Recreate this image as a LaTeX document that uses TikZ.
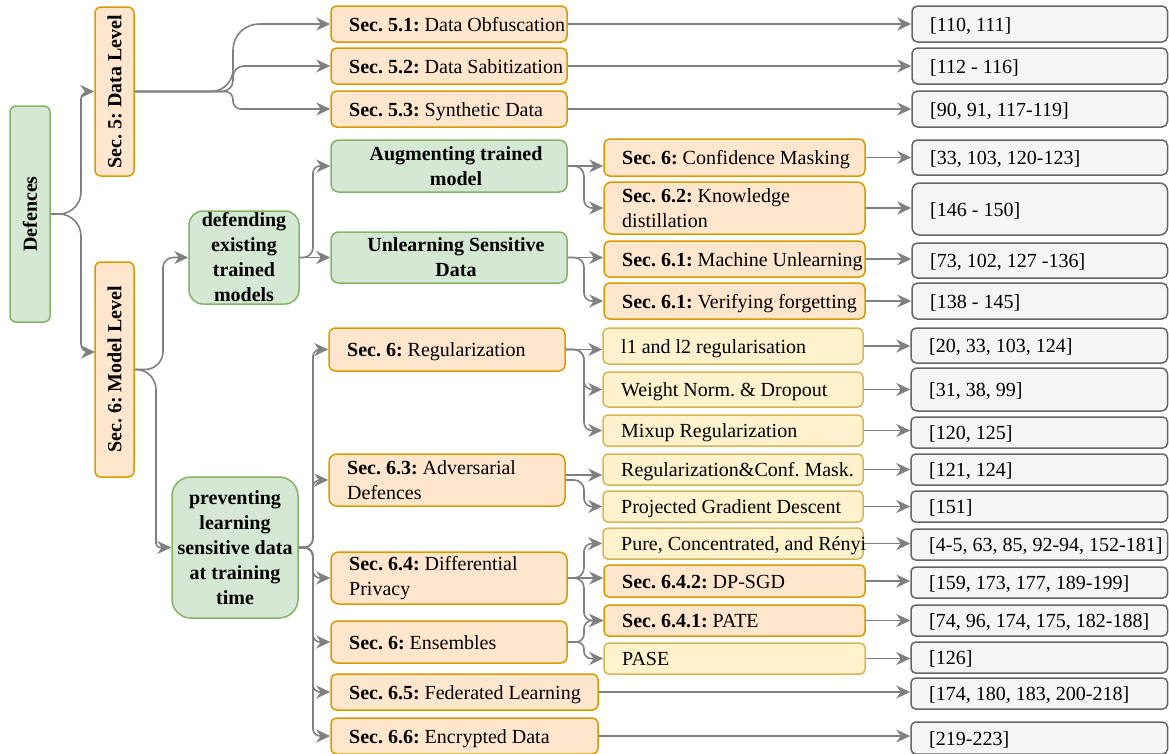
\documentclass[tikz,border=0pt]{standalone}
\usepackage{fontspec}
\setmainfont{Liberation Serif}
\usepackage{graphicx}
\usetikzlibrary{arrows.meta,calc}
\frenchspacing
\definecolor{ofill}{HTML}{FFE6CC}\definecolor{ostroke}{HTML}{D79B00}
\definecolor{gfill}{HTML}{D5E8D4}\definecolor{gstroke}{HTML}{82B366}
\definecolor{yfill}{HTML}{FFF2CC}\definecolor{ystroke}{HTML}{D6B656}
\definecolor{rfill}{HTML}{F5F5F5}\definecolor{rstroke}{HTML}{666666}
\definecolor{edgec}{HTML}{808080}
\tikzset{
  bx/.style={draw, line width=1.5pt, inner sep=0pt},
  obox/.style={bx, draw=ostroke, fill=ofill},
  gbox/.style={bx, draw=gstroke, fill=gfill},
  ybox/.style={bx, draw=ystroke, fill=yfill},
  rbox/.style={bx, draw=rstroke, fill=rfill},
  txt/.style={inner sep=0pt, font=\fontsize{20}{25}\selectfont\frenchspacing},
  edge/.style={draw=edgec, line width=1.6pt, line join=round,
    -{Stealth[length=14pt,width=13pt,inset=4.5pt]}},
}
\newcommand\boxat[6]{%
  \pgfmathsetmacro\bw{#5-#3}\pgfmathsetmacro\bh{#6-#4}%
  \pgfmathsetmacro\br{0.15*min(\bw,\bh)}%
  \node[#2, minimum width=\bw pt, minimum height=\bh pt, rounded corners=\br pt] (#1) at ({(#3+#5)/2},{(#4+#6)/2}) {};}
\newcommand\lbx[7]{\boxat{#1}{#2}{#3}{#4}{#5}{#6}%
  \node[txt, anchor=base west] (#1t) at ({#3+18},{(#4+#6)/2+7}) {#7};}
\newcommand\mbx[7]{\boxat{#1}{#2}{#3}{#4}{#5}{#6}%
  \node[txt, anchor=west, align=left] (#1t) at ({#3+18},{(#4+#6)/2}) {#7};}
\newcommand\cbx[8]{\boxat{#1}{#2}{#3}{#4}{#5}{#6}%
  \node[txt, align=center, font=\fontsize{20}{25}\selectfont\bfseries] (#1t) at ({(#3+#5)/2+#8},{(#4+#6)/2}) {#7};}
\newcommand\rbx[7]{\boxat{#1}{#2}{#3}{#4}{#5}{#6}%
  \node[txt] (#1t) at ({(#3+#5)/2},{(#4+#6)/2}) {\rotatebox{90}{\textbf{#7}}};}
\newcommand\crv[5]{\draw[edge] (#1) [rounded corners=#4pt] -- (#1 -| #2) [rounded corners=#5pt] -- (#3 -| #2) -- (#3);}
\newcommand\str[2]{\draw[edge] (#1) -- (#1 -| #2);}
\begin{document}
\begin{tikzpicture}[x=1pt,y=-1pt]
\useasboundingbox (0,0) rectangle (1169,753);
% left column
\rbx{def}{gbox}{10}{106}{50}{322}{Defences}
\rbx{sfive}{obox}{95}{7}{134}{176}{Sec. 5: Data Level}
\rbx{ssix}{obox}{95}{262}{134}{477}{Sec. 6: Model Level}
\cbx{dfd}{gbox}{189}{211}{299}{304}{defending\\existing\\trained\\models}{0}
\cbx{prv}{gbox}{172}{477}{298}{618}{preventing\\learning\\sensitive data\\at training\\time}{0}
% second column
\lbx{na}{obox}{331}{6}{567}{42}{\textbf{Sec. 5.1:} Data Obfuscation}
\lbx{nb}{obox}{331}{48}{567}{84}{\textbf{Sec. 5.2:} Data Sabitization}
\lbx{nc}{obox}{331}{91}{567}{127}{\textbf{Sec. 5.3:} Synthetic Data}
\cbx{aug}{gbox}{331}{140}{567}{192}{Augmenting trained\\model}{7}
\cbx{unl}{gbox}{331}{232}{567}{283}{Unlearning Sensitive\\Data}{7}
\lbx{reg}{obox}{329}{328}{565}{371}{\textbf{Sec. 6:} Regularization}
\mbx{adv}{obox}{329}{454}{565}{506}{\textbf{Sec. 6.3:} Adversarial\\Defences}
\mbx{dp}{obox}{331}{552}{567}{604}{\textbf{Sec. 6.4:} Differential\\Privacy}
\lbx{ens}{obox}{331}{621}{567}{663}{\textbf{Sec. 6:} Ensembles}
\lbx{fed}{obox}{331}{674}{598}{710}{\textbf{Sec. 6.5:} Federated Learning}
\lbx{enc}{obox}{331}{718}{598}{754}{\textbf{Sec. 6.6:} Encrypted Data}
% third column
\lbx{cm}{obox}{604}{139}{865}{176}{\textbf{Sec. 6:} Confidence Masking}
\mbx{kd}{obox}{604}{182}{865}{234}{\textbf{Sec. 6.2:} Knowledge\\distillation}
\lbx{mu}{obox}{604}{241}{865}{277}{\textbf{Sec. 6.1:} Machine Unlearning}
\lbx{vf}{obox}{604}{283}{865}{319}{\textbf{Sec. 6.1:} Verifying forgetting}
\lbx{lo}{ybox}{603}{328}{863}{364}{l1 and l2 regularisation}
\lbx{wn}{ybox}{603}{372}{863}{407}{Weight Norm. \& Dropout}
\lbx{mx}{ybox}{603}{415}{863}{446}{Mixup Regularization}
\lbx{rc}{ybox}{603}{454}{863}{485}{Regularization\&Conf. Mask.}
\lbx{pgd}{ybox}{603}{491}{863}{522}{Projected Gradient Descent}
\lbx{pure}{ybox}{603}{528}{863}{559}{Pure, Concentrated, and Rényi}
\lbx{sgd}{obox}{604}{565}{865}{597}{\textbf{Sec. 6.4.2:} DP-SGD}
\lbx{pate}{obox}{604}{605}{865}{636}{\textbf{Sec. 6.4.1:} PATE}
\lbx{pase}{ybox}{604}{643}{865}{674}{PASE}
% right column
\lbx{ra}{rbox}{912}{6}{1167.5}{42}{[110, 111]}
\lbx{rb}{rbox}{912}{48}{1167.5}{84}{[112 - 116]}
\lbx{rc3}{rbox}{912}{91}{1167.5}{127}{[90, 91, 117-119]}
\lbx{rd}{rbox}{912}{140}{1167.5}{175}{[33, 103, 120-123]}
\lbx{re}{rbox}{912}{183}{1167.5}{235}{[146 - 150]}
\lbx{rf}{rbox}{912}{243}{1167.5}{278}{[73, 102, 127 -136]}
\lbx{rg}{rbox}{912}{283}{1167.5}{319}{[138 - 145]}
\lbx{rh}{rbox}{911}{328}{1167.5}{363}{[20, 33, 103, 124]}
\lbx{ri}{rbox}{911}{368}{1167.5}{411}{[31, 38, 99]}
\lbx{rj}{rbox}{911}{417}{1167.5}{448}{[120, 125]}
\lbx{rk}{rbox}{911}{454}{1167.5}{485}{[121, 124]}
\lbx{rl}{rbox}{911}{491}{1167.5}{522}{[151]}
\lbx{rm}{rbox}{911}{529}{1167.5}{560}{[4-5, 63, 85, 92-94, 152-181]}
\lbx{rn}{rbox}{911}{567}{1167.5}{598}{[159, 173, 177, 189-199]}
\lbx{ro}{rbox}{911}{605}{1167.5}{636}{[74, 96, 174, 175, 182-188]}
\lbx{rp}{rbox}{911}{642}{1167.5}{673}{[126]}
\lbx{rq}{rbox}{911}{678}{1167.5}{709}{[174, 180, 183, 200-218]}
\lbx{rr}{rbox}{911}{722}{1167.5}{754}{[219-223]}
% helper coordinates
\coordinate (vA) at (81,0);
\coordinate (vB) at (233,0);
\coordinate (vC) at (163,0);
\coordinate (vD) at (156,0);
\coordinate (vE) at (313,0);
\coordinate (vF) at (584,0);
\coordinate (ssixin) at (95,352);
% curved connectors
\crv{def.east}{vA}{sfive.west}{22}{8}
\crv{def.east}{vA}{ssixin}{22}{8}
\crv{sfive.east}{vB}{na.west}{22}{26}
\crv{sfive.east}{vB}{nb.west}{11}{11}
\crv{sfive.east}{vB}{nc.west}{8}{8}
\crv{ssix.east}{vC}{dfd.west}{18}{10}
\crv{ssix.east}{vD}{prv.west}{20}{4}
\crv{dfd.east}{vE}{aug.west}{10}{7}
\draw[edge] (dfd.east) -- (unl.west);
\crv{prv.east}{vE}{reg.west}{9}{7}
\crv{prv.east}{vE}{adv.west}{9}{7}
\crv{prv.east}{vE}{dp.west}{9}{7}
\crv{prv.east}{vE}{ens.west}{9}{7}
\crv{prv.east}{vE}{fed.west}{9}{7}
\crv{prv.east}{vE}{enc.west}{9}{7}
\str{aug.east}{cm.west}
\crv{aug.east}{vF}{kd.west}{10}{8}
\str{unl.east}{mu.west}
\crv{unl.east}{vF}{vf.west}{10}{8}
\str{reg.east}{lo.west}
\crv{reg.east}{vF}{wn.west}{10}{8}
\crv{reg.east}{vF}{mx.west}{10}{8}
\draw[edge] ($(adv.east)+(0,-5)$) -- ($(rc.west)+(0,5.5)$);
\crv{adv.east}{vF}{pgd.west}{10}{8}
\crv{dp.east}{vF}{pure.west}{10}{8}
\str{dp.east}{sgd.west}
\crv{dp.east}{vF}{pate.west}{10}{8}
\crv{ens.east}{vF}{pate.west}{8}{8}
\crv{ens.east}{vF}{pase.west}{7}{7}
% straight connectors to references
\str{na.east}{ra.west}
\str{nb.east}{rb.west}
\str{nc.east}{rc3.west}
\str{cm.east}{rd.west}
\str{kd.east}{re.west}
\str{mu.east}{rf.west}
\str{vf.east}{rg.west}
\str{lo.east}{rh.west}
\str{wn.east}{ri.west}
\str{mx.east}{rj.west}
\str{rc.east}{rk.west}
\str{pgd.east}{rl.west}
\str{pure.east}{rm.west}
\str{sgd.east}{rn.west}
\str{pate.east}{ro.west}
\str{pase.east}{rp.west}
\str{fed.east}{rq.west}
\str{enc.east}{rr.west}
\end{tikzpicture}
\end{document}
